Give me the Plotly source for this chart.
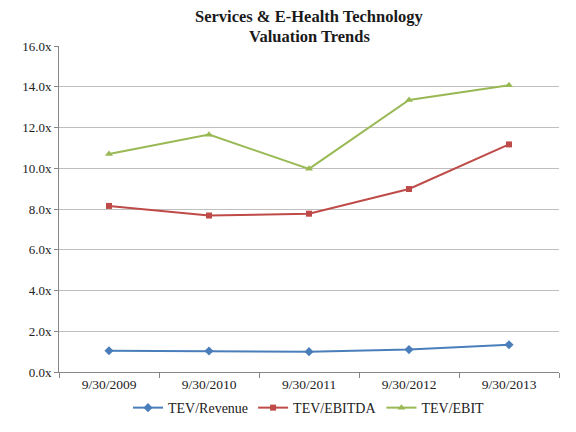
import plotly.graph_objects as go

dates = ["9/30/2009", "9/30/2010", "9/30/2011", "9/30/2012", "9/30/2013"]
tev_revenue = [1.04, 1.03, 1.00, 1.10, 1.34]
tev_ebitda = [8.15, 7.68, 7.77, 8.98, 11.17]
tev_ebit = [10.70, 11.65, 9.97, 13.35, 14.07]
yticks = [0, 2, 4, 6, 8, 10, 12, 14, 16]
title_lines = ["Services & E-Health Technology", "Valuation Trends"]

font = "Liberation Serif"
fig = go.Figure()
fig.add_trace(go.Scatter(x=dates, y=tev_revenue, name="TEV/Revenue", mode="lines+markers",
                         line=dict(color="#4a7ebb", width=2),
                         marker=dict(symbol="diamond", size=7, color="#4a7ebb")))
fig.add_trace(go.Scatter(x=dates, y=tev_ebitda, name="TEV/EBITDA", mode="lines+markers",
                         line=dict(color="#be4b48", width=2),
                         marker=dict(symbol="square", size=6, color="#be4b48")))
fig.add_trace(go.Scatter(x=dates, y=tev_ebit, name="TEV/EBIT", mode="lines+markers",
                         line=dict(color="#98b954", width=2),
                         marker=dict(symbol="triangle-up", size=7, color="#98b954")))

for line, shift in zip(title_lines, [29.5, 10]):
    fig.add_annotation(text=f"<b>{line}</b>", xref="paper", yref="paper",
                       x=0.5, y=1.0, yshift=shift, xanchor="center", yanchor="middle",
                       showarrow=False, borderpad=0,
                       font=dict(family=font, size=16.5, color="#1a1a1a"))

fig.update_layout(
    width=576, height=432,
    margin=dict(l=51, r=25, t=38, b=68, autoexpand=False),
    paper_bgcolor="white", plot_bgcolor="white",
    font=dict(family=font, size=13, color="#222"),
    showlegend=True,
    legend=dict(orientation="h", x=0.5, xanchor="center", yref="container", y=0.074, yanchor="middle",
                font=dict(family=font, size=14), tracegroupgap=0),
    xaxis=dict(type="category", showgrid=False, showline=True, linecolor="#868686",
               ticks="outside", tickson="boundaries", ticklen=5, tickcolor="#868686",
               tickfont=dict(family=font, size=13.5), range=[-0.5, 4.5], automargin=False),
    yaxis=dict(range=[0, 16], tickvals=yticks, ticktext=[f"{v:.1f}x" for v in yticks],
               showgrid=True, gridcolor="#bfbfbf", gridwidth=1,
               showline=True, linecolor="#868686", ticks="outside", ticklen=4,
               tickcolor="#868686", zeroline=False, automargin=False,
               tickfont=dict(family=font, size=13)),
)
fig.write_html("out.html")
